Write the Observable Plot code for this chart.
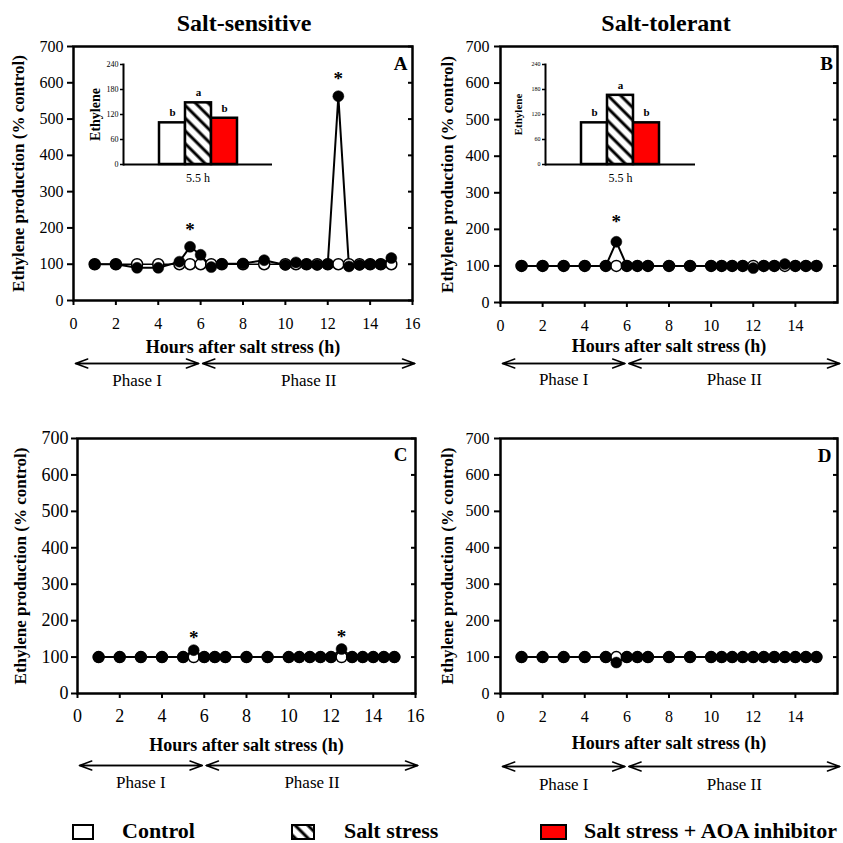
<!DOCTYPE html>
<html>
<head>
<meta charset="utf-8">
<script src="https://cdn.jsdelivr.net/npm/d3@7"></script>
<script src="https://cdn.jsdelivr.net/npm/@observablehq/plot@0.6"></script>
<style>
  body { margin: 0; background: #fff; }
  #root { position: relative; width: 843px; height: 843px; font-family: "Liberation Serif", "Times New Roman", serif; color: #000; overflow: hidden; }
  .title { font-weight: bold; font-size: 24px; transform: translate(-50%, -50%); white-space: nowrap; }
  .leg-box { border: 2px solid #000; box-sizing: border-box; }
  .leg-text { font-weight: bold; font-size: 22px; line-height: 1; white-space: nowrap; transform: translateY(-50%); }
</style>
</head>
<body>
<svg width="0" height="0" style="position:absolute">
  <defs>
    <pattern id="hatch" width="9" height="9" patternUnits="userSpaceOnUse" patternTransform="rotate(-45)">
      <rect width="9" height="9" fill="#fff"></rect>
      <line x1="2" y1="0" x2="2" y2="9" stroke="#000" stroke-width="3"></line>
    </pattern>
  </defs>
</svg>
<div id="root"></div>
<script>
// ---------- data ----------
const hours = [1, 2, 3, 4, 5, 5.5, 6, 6.5, 7, 8, 9, 10, 10.5, 11, 11.5, 12, 12.5, 13, 13.5, 14, 14.5, 15];

const controlA = [100, 100, 100, 100, 100, 100, 100, 100, 100, 100, 100, 100, 100, 100, 100, 100, 100, 100, 100, 100, 100, 100];
const saltA    = [100, 100, 90, 90, 107, 148, 126, 92, 101, 102, 111, 98, 105, 100, 98, 100, 563, 94, 98, 100, 100, 117];

const controlB = [100, 100, 100, 100, 100, 100, 100, 100, 100, 100, 100, 100, 100, 100, 100, 100, 100, 100, 100, 100, 100, 100];
const saltB    = [100, 100, 100, 100, 100, 166, 100, 100, 100, 100, 100, 100, 100, 100, 100, 94, 100, 100, 105, 100, 100, 100];

const controlC = [100, 100, 100, 100, 100, 100, 100, 100, 100, 100, 100, 100, 100, 100, 100, 100, 100, 100, 100, 100, 100, 100];
const saltC    = [100, 100, 100, 100, 100, 119, 100, 100, 100, 100, 100, 100, 100, 100, 100, 100, 122, 100, 100, 100, 100, 100];

const controlD = [100, 100, 100, 100, 100, 100, 100, 100, 100, 100, 100, 100, 100, 100, 100, 100, 100, 100, 100, 100, 100, 100];
const saltD    = [100, 100, 100, 100, 100, 85, 100, 100, 100, 100, 100, 100, 100, 100, 100, 100, 100, 100, 100, 100, 100, 100];

const starsA = [5.5, 12.5];
const starsB = [5.5];
const starsC = [5.5, 12.5];
const starsD = [];

const yTicks = [0, 100, 200, 300, 400, 500, 600, 700];
const xTicksLeft = [0, 2, 4, 6, 8, 10, 12, 14, 16];
const xTicksRight = [0, 2, 4, 6, 8, 10, 12, 14];

const phaseLabels = ["Phase I", "Phase II"];
const phaseStart = [0, 6];
const phaseEnd = [6, 16.2];

const insetGroups = ["Control", "Salt stress", "Salt stress + AOA inhibitor"];
const insetA = [100, 148, 111];
const insetB = [100, 166, 100];
const insetLetters = ["b", "a", "b"];
const insetTicks = [0, 60, 120, 180, 240];
const insetFills = ["#ffffff", "url(#hatch)", "#ff0000"];

const titles = ["Salt-sensitive", "Salt-tolerant"];
const yLabel = "Ethylene production (% control)";
const xLabel = "Hours after salt stress (h)";
const insetYLabel = "Ethylene";
const insetXLabel = "5.5 h";

// ---------- helpers ----------
const SERIF = '"Liberation Serif", "Times New Roman", serif';
const root = document.getElementById("root");
const phases = phaseLabels.map((label, i) => ({label, start: phaseStart[i], end: phaseEnd[i]}));

function place(el, left, top) {
  el.style.position = "absolute";
  el.style.left = left + "px";
  el.style.top = top + "px";
  root.appendChild(el);
}

function panel(cfg) {
  const data = hours.map((h, i) => ({h, ctrl: cfg.control[i], salt: cfg.salt[i]}));
  const stars = cfg.stars.map(h => ({h, v: cfg.salt[hours.indexOf(h)]}));
  return Plot.plot({
    width: cfg.width, height: cfg.height,
    marginLeft: cfg.ml, marginRight: cfg.mr, marginTop: cfg.mt, marginBottom: cfg.mb,
    x: {domain: [0, 16], label: null},
    y: {domain: [0, 700], label: null},
    style: {fontFamily: SERIF, color: "#000", background: "transparent", overflow: "visible"},
    marks: [
      Plot.axisY({ticks: yTicks, tickSize: 6, tickPadding: cfg.ypad, fontSize: cfg.fs, strokeWidth: 2, label: null}),
      Plot.axisY({anchor: "right", ticks: yTicks, tickSize: 5, dx: -5, strokeWidth: 2, tickFormat: () => "", label: null}),
      Plot.axisX({ticks: cfg.xticks, tickSize: 5, tickPadding: cfg.xpad, fontSize: cfg.fs, strokeWidth: 2, label: null}),
      Plot.lineY(data, {x: "h", y: "ctrl", stroke: "#000", strokeWidth: 1.5}),
      Plot.lineY(data, {x: "h", y: "salt", stroke: "#000", strokeWidth: 2}),
      Plot.dot(data, {x: "h", y: "ctrl", r: 5.5, fill: "#fff", stroke: "#000", strokeWidth: 1.5}),
      Plot.dot(data, {x: "h", y: "salt", r: 5.5, fill: "#000", stroke: "#000", strokeWidth: 0.5}),
      Plot.text(stars, {x: "h", y: "v", text: () => "*", dy: cfg.starDy, fontSize: 19, fontWeight: "bold", lineAnchor: "middle"}),
      Plot.frame({stroke: "#000", strokeWidth: 2.5}),
      Plot.text([cfg.letter], {frameAnchor: "top-right", dx: cfg.ldx, dy: cfg.ldy, textAnchor: "middle", lineAnchor: "middle", fontSize: 19, fontWeight: "bold"}),
      Plot.text([yLabel], {frameAnchor: "left", rotate: -90, dx: cfg.ylx, textAnchor: "middle", lineAnchor: "middle", fontSize: 17, fontWeight: "bold"}),
      Plot.text([xLabel], {frameAnchor: "bottom", dy: cfg.xly, textAnchor: "middle", lineAnchor: "middle", fontSize: 18, fontWeight: "bold"}),
      Plot.arrow(phases, {x1: "start", x2: "end", y1: 0, y2: 0, dy: cfg.ay, inset: 2, headLength: 13, headAngle: 40, stroke: "#000", strokeWidth: 1.5}),
      Plot.arrow(phases, {x1: "end", x2: "start", y1: 0, y2: 0, dy: cfg.ay, inset: 2, headLength: 13, headAngle: 40, stroke: "#000", strokeWidth: 1.5}),
      Plot.text(phases, {x: d => (d.start + d.end) / 2, y: 0, dy: cfg.py, text: "label", fontSize: 17, lineAnchor: "middle"})
    ]
  });
}

function inset(cfg) {
  const data = insetGroups.map((g, i) => ({g, v: cfg.values[i], letter: insetLetters[i]}));
  return Plot.plot({
    width: cfg.width, height: 140,
    marginLeft: cfg.ml, marginRight: 8, marginTop: 10, marginBottom: 30,
    x: {domain: insetGroups, paddingInner: 0, paddingOuter: cfg.po, axis: null},
    y: {domain: [0, 240], label: null},
    color: {type: "ordinal", domain: insetGroups, range: insetFills},
    style: {fontFamily: SERIF, color: "#000", background: "transparent", overflow: "visible"},
    marks: [
      Plot.barY(data, {x: "g", y: "v", fill: "g", stroke: "#000", strokeWidth: 2.5}),
      Plot.text(data, {x: "g", y: "v", text: "letter", dy: -10, fontSize: 11, fontWeight: "bold", lineAnchor: "middle"}),
      Plot.ruleY([0], {stroke: "#000", strokeWidth: 2}),
      Plot.frame({anchor: "left", stroke: "#000", strokeWidth: 2}),
      Plot.axisY({ticks: insetTicks, tickSize: 3, tickPadding: 2, fontSize: cfg.tfs, strokeWidth: 1.5, label: null}),
      Plot.text([insetXLabel], {frameAnchor: "bottom", dy: 14, fontSize: 12, lineAnchor: "middle"}),
      Plot.text([insetYLabel], {frameAnchor: "left", rotate: -90, dx: cfg.ylx, fontSize: cfg.yfs, fontWeight: "bold", lineAnchor: "middle", textAnchor: "middle"})
    ]
  });
}

// ---------- panels ----------
place(panel({control: controlA, salt: saltA, stars: starsA, letter: "A", xticks: xTicksLeft,
  width: 421, height: 400, ml: 73, mr: 9, mt: 46, mb: 100, fs: 16, ypad: 4, xpad: 12,
  starDy: -17, ldx: -12, ldy: 17, ylx: -55, xly: 47, ay: 63, py: 80}), 0, 0);

place(panel({control: controlB, salt: saltB, stars: starsB, letter: "B", xticks: xTicksRight,
  width: 422, height: 400, ml: 79, mr: 6, mt: 46, mb: 98, fs: 16, ypad: 5, xpad: 12,
  starDy: -20, ldx: -11, ldy: 17, ylx: -53, xly: 44, ay: 61, py: 77}), 421, 0);

place(panel({control: controlC, salt: saltC, stars: starsC, letter: "C", xticks: xTicksLeft,
  width: 421, height: 408, ml: 77, mr: 6, mt: 46, mb: 107, fs: 18, ypad: 3, xpad: 11,
  starDy: -12, ldx: -15, ldy: 16, ylx: -57, xly: 52, ay: 72, py: 89}), 0, 392);

place(panel({control: controlD, salt: saltD, stars: starsD, letter: "D", xticks: xTicksRight,
  width: 422, height: 408, ml: 79, mr: 6, mt: 46, mb: 107, fs: 16, ypad: 5, xpad: 12,
  starDy: -12, ldx: -13, ldy: 17, ylx: -53, xly: 50, ay: 73, py: 91}), 421, 392);

// ---------- insets ----------
place(inset({values: insetA, width: 200, ml: 43, po: 1.33, tfs: 8, yfs: 14, ylx: -28}), 80, 54);
place(inset({values: insetB, width: 203, ml: 45, po: 1.38, tfs: 6, yfs: 11, ylx: -27}), 500, 54);

// ---------- titles ----------
const titleX = [244, 666];
titles.forEach((t, i) => {
  const d = document.createElement("div");
  d.className = "title";
  d.textContent = t;
  place(d, titleX[i], 23);
});

// ---------- legend ----------
const legendBoxX = [72, 291, 540];
const legendBoxW = [22, 24, 27];
const legendTextX = [122, 344, 584];
insetGroups.forEach((g, i) => {
  const box = document.createElement("div");
  box.className = "leg-box";
  box.style.width = legendBoxW[i] + "px";
  box.style.height = "16px";
  if (i === 1) {
    const s = document.createElementNS("http://www.w3.org/2000/svg", "svg");
    s.setAttribute("width", "100%"); s.setAttribute("height", "100%");
    s.style.display = "block";
    const r = document.createElementNS("http://www.w3.org/2000/svg", "rect");
    r.setAttribute("width", "100%"); r.setAttribute("height", "100%");
    r.setAttribute("fill", insetFills[i]);
    s.appendChild(r);
    box.appendChild(s);
  } else {
    box.style.background = insetFills[i];
  }
  place(box, legendBoxX[i], 824);
  const t = document.createElement("div");
  t.className = "leg-text";
  t.textContent = g;
  place(t, legendTextX[i], 831);
});
</script>
</body>
</html>
